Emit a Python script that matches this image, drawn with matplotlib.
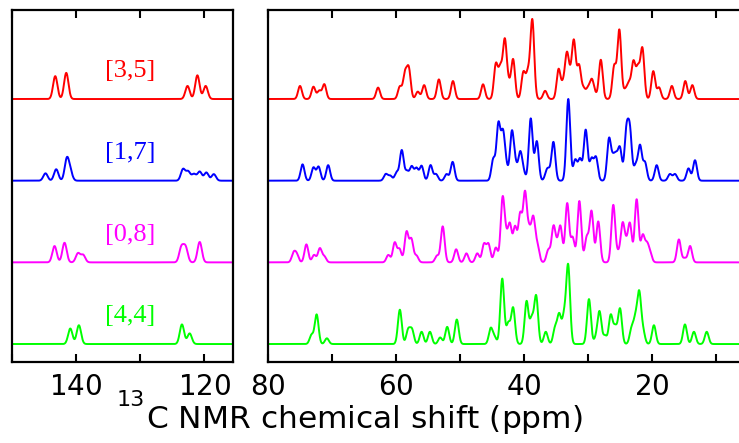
import numpy as np
import matplotlib
matplotlib.use("Agg")
import matplotlib.pyplot as plt
from matplotlib.ticker import MultipleLocator, FuncFormatter

# ---- spectra: peak lists (chemical shift in ppm, intensity) ----
LABELS = ["[3,5]", "[1,7]", "[0,8]", "[4,4]"]
COLORS = ["#ff0000", "#0000ff", "#ff00ff", "#00ff00"]

# aromatic region (left panel)
AROM_35_PPM = [143.25, 141.53, 122.6, 121.06, 119.77]
AROM_35_INT = [0.28, 0.32, 0.16, 0.29, 0.16]
AROM_17_PPM = [144.77, 143.1, 141.44, 140.9, 123.3, 122.5, 121.6, 120.7, 119.66, 118.5]
AROM_17_INT = [0.09, 0.14, 0.26, 0.10, 0.14, 0.11, 0.08, 0.11, 0.10, 0.08]
AROM_08_PPM = [143.36, 141.8, 139.7, 138.9, 123.56, 122.9, 120.7]
AROM_08_INT = [0.20, 0.24, 0.11, 0.09, 0.18, 0.18, 0.25]
AROM_44_PPM = [140.9, 139.56, 123.47, 122.27]
AROM_44_INT = [0.19, 0.23, 0.24, 0.13]

# aliphatic region (right panel)
ALIPH_35_PPM = [75.0, 72.9, 72.0, 71.2, 62.8, 59.4, 58.6, 58.0, 56.6, 55.6,
                53.3, 51.1, 46.4, 44.4, 43.7, 43.0, 42.4, 41.7, 40.1, 39.4,
                38.7, 36.7, 34.6, 33.9, 33.3, 32.75, 32.2, 31.4, 30.7, 30.0,
                29.4, 28.9, 28.0, 25.9, 25.1, 24.2, 23.6, 22.9, 22.2, 21.5,
                19.8, 18.9, 16.9, 14.8, 13.7]
ALIPH_35_INT = [0.16, 0.15, 0.10, 0.18, 0.14, 0.15, 0.30, 0.36, 0.09, 0.17,
                0.24, 0.22, 0.18, 0.42, 0.36, 0.70, 0.16, 0.48, 0.32, 0.30,
                0.96, 0.10, 0.36, 0.16, 0.52, 0.20, 0.68, 0.40, 0.12, 0.12,
                0.22, 0.05, 0.48, 0.40, 0.84, 0.10, 0.18, 0.44, 0.36, 0.61,
                0.34, 0.14, 0.16, 0.22, 0.17]
ALIPH_17_PPM = [74.6, 72.9, 72.1, 70.6, 61.6, 60.9, 59.9, 59.1, 58.3, 57.55,
                56.8, 56.0, 54.6, 53.75, 52.1, 51.15, 44.8, 44.0, 43.3, 42.8,
                41.9, 41.35, 40.6, 40.1, 38.95, 38.0, 36.45, 36.1, 35.4, 33.08,
                32.0, 31.25, 30.36, 29.45, 28.75, 26.72, 26.1, 25.6, 25.0, 24.0,
                23.45, 22.55, 21.87, 21.1, 19.27, 17.2, 16.4, 14.3, 13.28]
ALIPH_17_INT = [0.20, 0.16, 0.17, 0.19, 0.08, 0.06, 0.10, 0.37, 0.11, 0.17,
                0.15, 0.18, 0.19, 0.08, 0.08, 0.23, 0.26, 0.68, 0.55, 0.16,
                0.58, 0.18, 0.33, 0.10, 0.76, 0.48, 0.10, 0.08, 0.47, 1.00,
                0.25, 0.26, 0.62, 0.26, 0.28, 0.50, 0.22, 0.25, 0.38, 0.58,
                0.58, 0.18, 0.42, 0.22, 0.19, 0.08, 0.08, 0.15, 0.25]
ALIPH_08_PPM = [76.0, 75.5, 74.0, 72.8, 71.9, 71.2, 61.2, 60.2, 59.45, 58.35,
                57.6, 56.8, 53.6, 52.7, 50.6, 49.0, 47.3, 46.25, 45.55, 44.4,
                43.35, 42.8, 42.2, 41.4, 40.6, 39.85, 39.2, 38.55, 37.9, 36.2,
                35.4, 34.85, 34.3, 33.25, 32.4, 31.35, 30.2, 29.45, 28.4, 26.05,
                25.3, 24.6, 24.05, 23.45, 22.4, 21.45, 20.8, 20.3, 15.8, 14.9,
                14.05]
ALIPH_08_INT = [0.11, 0.09, 0.22, 0.09, 0.17, 0.07, 0.09, 0.24, 0.16, 0.37,
                0.28, 0.08, 0.08, 0.44, 0.16, 0.11, 0.11, 0.22, 0.22, 0.18,
                0.76, 0.25, 0.44, 0.42, 0.57, 0.82, 0.35, 0.52, 0.20, 0.15,
                0.42, 0.15, 0.42, 0.72, 0.30, 0.75, 0.30, 0.62, 0.50, 0.70,
                0.10, 0.45, 0.18, 0.46, 0.77, 0.32, 0.20, 0.10, 0.28, 0.05,
                0.20]
ALIPH_44_PPM = [73.2, 72.4, 70.8, 59.4, 58.1, 57.5, 56.0, 54.7, 53.1, 52.0,
                50.5, 45.2, 44.6, 43.4, 42.45, 41.7, 39.6, 38.8, 38.1, 36.6,
                35.15, 34.5, 33.75, 33.1, 29.85, 28.75, 28.2, 27.35, 26.45, 25.75,
                25.0, 23.2, 22.6, 22.0, 21.4, 19.7, 14.85, 13.45, 11.45]
ALIPH_44_INT = [0.11, 0.36, 0.07, 0.42, 0.17, 0.17, 0.15, 0.15, 0.08, 0.21,
                0.30, 0.19, 0.08, 0.80, 0.25, 0.44, 0.52, 0.30, 0.58, 0.15,
                0.19, 0.35, 0.32, 0.95, 0.55, 0.07, 0.39, 0.10, 0.35, 0.20,
                0.43, 0.18, 0.28, 0.60, 0.15, 0.23, 0.24, 0.15, 0.15]

AROM = [(AROM_35_PPM, AROM_35_INT), (AROM_17_PPM, AROM_17_INT),
        (AROM_08_PPM, AROM_08_INT), (AROM_44_PPM, AROM_44_INT)]
ALIPH = [(ALIPH_35_PPM, ALIPH_35_INT), (ALIPH_17_PPM, ALIPH_17_INT),
         (ALIPH_08_PPM, ALIPH_08_INT), (ALIPH_44_PPM, ALIPH_44_INT)]


def spectrum(grid, shifts, heights, sigma):
    """Sum of Gaussian lines."""
    y = np.zeros_like(grid)
    for p, h in zip(shifts, heights):
        y += h * np.exp(-0.5 * ((grid - p) / sigma) ** 2)
    return y


W, H = 739, 443
fig = plt.figure(figsize=(W / 100, H / 100), dpi=100)

bottom = 81 / H
height = 352 / H
ax_l = fig.add_axes([12 / W, bottom, 221 / W, height])
ax_r = fig.add_axes([268 / W, bottom, 471 / W, height])

YLIM = (-0.22, 4.09)
n = len(LABELS)

grid_l = np.linspace(151, 114, 3000)
grid_r = np.linspace(81, 5, 6000)

for i in range(n):
    off = n - 1 - i
    ax_l.plot(grid_l, off + spectrum(grid_l, *AROM[i], 0.34),
              color=COLORS[i], lw=1.4, solid_joinstyle="round")
    ax_r.plot(grid_r, off + spectrum(grid_r, *ALIPH[i], 0.30),
              color=COLORS[i], lw=1.4, solid_joinstyle="round")
    ax_l.text(131.5, off + 0.34, LABELS[i], color=COLORS[i],
              family="Liberation Serif", fontsize=19,
              ha="center", va="center")

ax_l.set_xlim(150.0, 115.5)
ax_r.set_xlim(80.0, 80.0 - 471 / 6.4)

ppm_fmt = FuncFormatter(lambda v, pos: r"$%d$" % round(v))

for ax in (ax_l, ax_r):
    ax.set_ylim(*YLIM)
    ax.set_yticks([])
    ax.xaxis.set_major_locator(MultipleLocator(20))
    ax.xaxis.set_minor_locator(MultipleLocator(10))
    ax.xaxis.set_major_formatter(ppm_fmt)
    ax.tick_params(axis="x", which="both", direction="in", top=True,
                   bottom=True, length=5.5, width=1.5, labelsize=20, pad=7.8)
    for s in ax.spines.values():
        s.set_linewidth(1.6)

ax_r.spines["right"].set_visible(False)

# axis title: isotope mass number as a raised prefix, then the title text
fig.text(145 / W, 1 - 406 / H, "13", fontsize=16,
         ha="right", va="baseline")
fig.text(146.5 / W, 1 - 428 / H,
         r"$\mathregular{C\ NMR\ chemical\ shift\ (ppm)}$",
         fontsize=22.5, ha="left", va="baseline")

fig.savefig("out.png", dpi=100)
